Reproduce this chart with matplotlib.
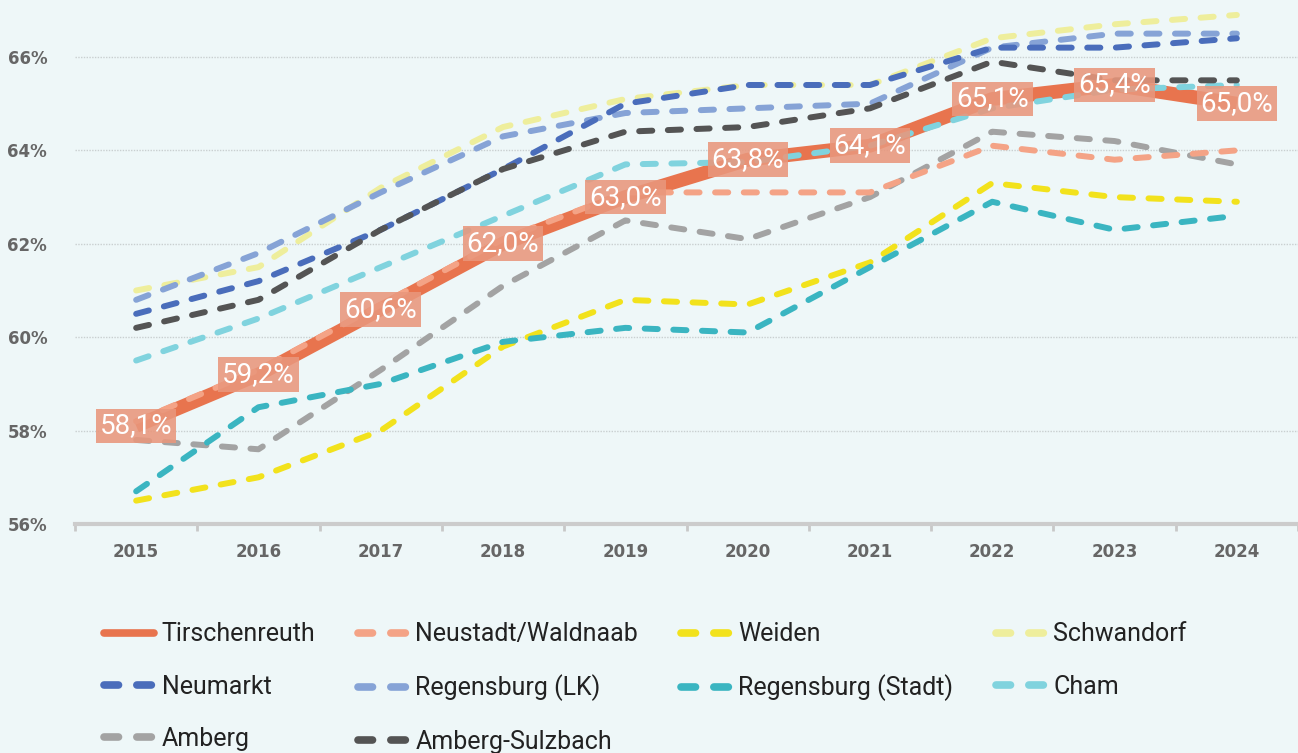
#!/usr/bin/env python3

import matplotlib.pyplot as plt
import matplotlib.ticker as ticker
from matplotlib.lines import Line2D
import numpy as np

years = [2015, 2016, 2017, 2018, 2019, 2020, 2021, 2022, 2023, 2024]

tirschenreuth = [58.1, 59.2, 60.6, 62.0, 63.0, 63.8, 64.1, 65.1, 65.4, 65.0]
neustadt = [58.2, 59.3, 60.7, 62.1, 63.1, 63.1, 63.1, 64.1, 63.8, 64.0]
weiden = [56.5, 57.0, 58.0, 59.8, 60.8, 60.7, 61.6, 63.3, 63.0, 62.9]
schwandorf = [61.0, 61.5, 63.2, 64.5, 65.1, 65.4, 65.4, 66.4, 66.7, 66.9]
neumarkt = [60.5, 61.2, 62.3, 63.6, 65.0, 65.4, 65.4, 66.2, 66.2, 66.4]
regensburg_lk = [60.8, 61.8, 63.1, 64.3, 64.8, 64.9, 65.0, 66.2, 66.5, 66.5]
regensburg_stadt = [56.7, 58.5, 59.0, 59.9, 60.2, 60.1, 61.5, 62.9, 62.3, 62.6]
cham = [59.5, 60.4, 61.5, 62.6, 63.7, 63.75, 64.1, 64.9, 65.3, 65.4]
amberg = [57.8, 57.6, 59.3, 61.1, 62.5, 62.1, 63.0, 64.4, 64.2, 63.7]
amberg_sulzbach = [60.2, 60.8, 62.3, 63.6, 64.4, 64.5, 64.9, 65.9, 65.5, 65.5]

bg = "#eef7f8"
plt.rcParams['font.family'] = 'Roboto'

fig = plt.figure(figsize=(12.98, 7.53), dpi=100, facecolor=bg)
ax = fig.add_axes([75 / 1298, 1 - 524 / 753, 1 - 75 / 1298, 524 / 753])
ax.set_facecolor(bg)

x = np.arange(len(years))
dash = (2.2, 2.6)
lw = 4.3

# (values, label, color), drawing order matters for overlaps
dashed = [
    (amberg, "Amberg", "#a3a3a3"),
    (weiden, "Weiden", "#f2e21c"),
    (regensburg_stadt, "Regensburg (Stadt)", "#3ab5c1"),
    (cham, "Cham", "#80d3de"),
    (schwandorf, "Schwandorf", "#eeee9c"),
    (regensburg_lk, "Regensburg (LK)", "#86a3d6"),
    (neumarkt, "Neumarkt", "#4a6dbb"),
    (amberg_sulzbach, "Amberg-Sulzbach", "#545454"),
    (neustadt, "Neustadt/Waldnaab", "#f4a386"),
]

orange = "#e8744e"
ax.plot(x, tirschenreuth, color=orange, lw=10, solid_capstyle='butt',
        solid_joinstyle='round', zorder=2)
for vals, lbl, col in dashed:
    ax.plot(x, vals, color=col, lw=lw, linestyle=(0, dash),
            dash_capstyle='round', dash_joinstyle='round', zorder=3)

for xi, v in zip(x, tirschenreuth):
    ax.text(xi, v, f"{v:.1f}%".replace('.', ','), ha='center', va='center',
            color='white', fontsize=20, zorder=5,
            bbox=dict(boxstyle='square,pad=0.14', fc='#e9977c', ec='none', alpha=0.88))

ax.set_xlim(-0.5, 9.36)
ax.set_ylim(56, 67.22)
ax.yaxis.set_major_locator(ticker.MultipleLocator(2))
ax.yaxis.set_major_formatter(ticker.FuncFormatter(lambda v, p: f"{v:.0f}%"))
ax.set_xticks(x)
ax.set_xticklabels([str(y) for y in years])
ax.set_xticks(np.arange(-0.5, 9.6, 1), minor=True)
ax.tick_params(axis='x', which='major', length=0, pad=14)
ax.tick_params(axis='x', which='minor', length=5, width=2, color='#c8c8c8')
ax.tick_params(axis='y', length=0, pad=20)
for lab in ax.get_xticklabels() + ax.get_yticklabels():
    lab.set_fontfamily('DejaVu Sans')
    lab.set_fontweight('bold')
    lab.set_fontsize(12)
    lab.set_color('#666666')

ax.grid(axis='y', color='#c9cfd0', linestyle=(0, (1, 1)), lw=1)
for s in ['top', 'right', 'left']:
    ax.spines[s].set_visible(False)
ax.spines['bottom'].set_color('#cccccc')
ax.spines['bottom'].set_linewidth(3)

# legend, filled column-wise to get the row order of the reference
colors = {lbl: col for _, lbl, col in dashed}
order = ["Tirschenreuth", "Neumarkt", "Amberg",
         "Neustadt/Waldnaab", "Regensburg (LK)", "Amberg-Sulzbach",
         "Weiden", "Regensburg (Stadt)",
         "Schwandorf", "Cham"]
handles = []
for lbl in order:
    if lbl == "Tirschenreuth":
        h = Line2D([], [], color=orange, lw=5.5, solid_capstyle='round')
    else:
        h = Line2D([], [], color=colors[lbl], lw=5.5, linestyle=(0, (1.9, 2.4)),
                   dash_capstyle='round')
    handles.append(h)
fig.legend(handles, order, ncol=4, loc='upper left', bbox_to_anchor=(0.065, 0.2),
           frameon=False, fontsize=18, handlelength=2.0, handletextpad=0.3,
           columnspacing=1.7, labelspacing=1.13, labelcolor='#222222',
           borderpad=0.3)

fig.savefig('out.png', dpi=100, facecolor=bg)
